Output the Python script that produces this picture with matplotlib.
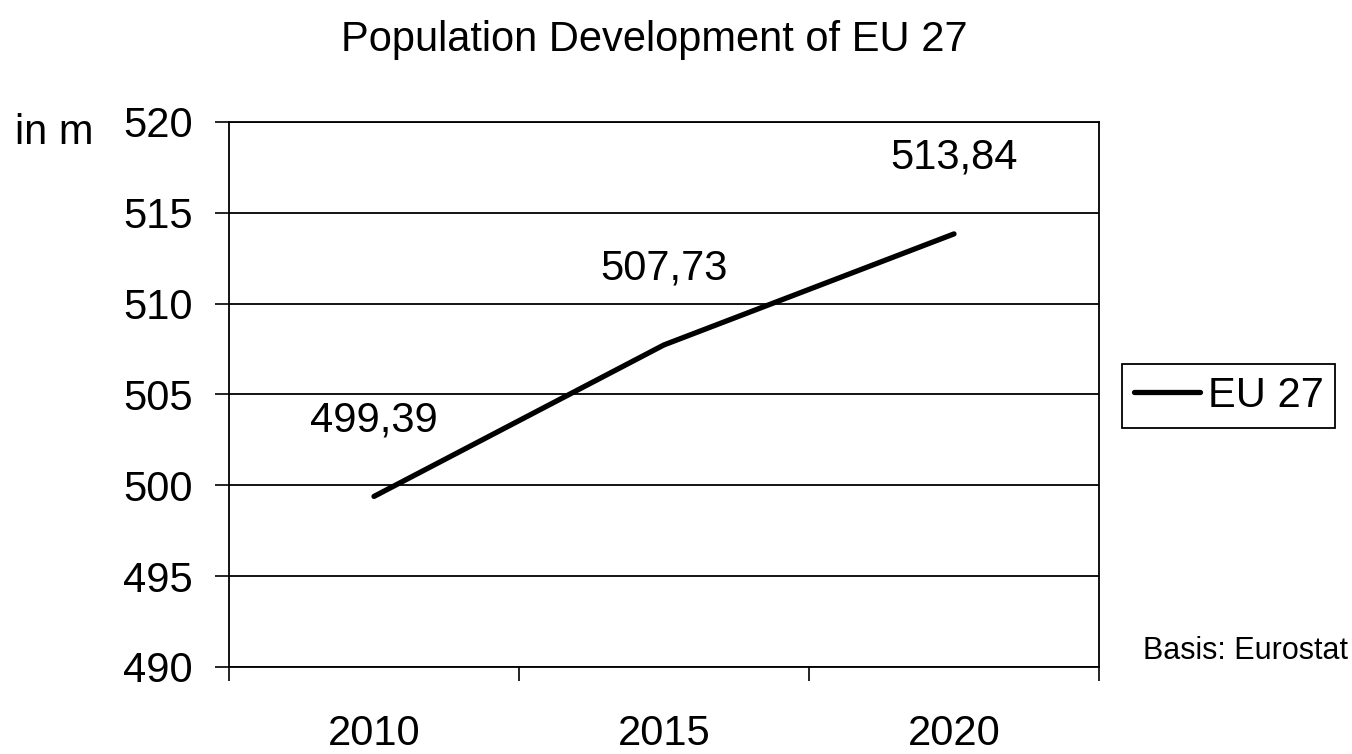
import matplotlib
matplotlib.use("Agg")
import matplotlib.pyplot as plt

plt.rcParams["font.family"] = ["Liberation Sans", "DejaVu Sans"]

years = ["2010", "2015", "2020"]
population = [499.39, 507.73, 513.84]
value_labels = ["499,39", "507,73", "513,84"]
y_ticks = [490, 495, 500, 505, 510, 515, 520]

fig = plt.figure(figsize=(13.52, 7.54), dpi=100)
ax = fig.add_axes([229 / 1352, 87 / 754, 870 / 1352, 545 / 754])

x = list(range(len(years)))
ax.plot(x, population, color="black", linewidth=3.8, solid_capstyle="round",
        label="EU 27", zorder=3)

for xi, v, lab in zip(x, population, value_labels):
    ax.annotate(lab, (xi, v), xytext=(0, 55), textcoords="offset points",
                ha="center", va="center", fontsize=30)

ax.set_xlim(-0.5, len(years) - 0.5)
ax.set_ylim(490, 520)
ax.set_yticks(y_ticks)
ax.set_yticklabels([str(t) for t in y_ticks])

# category boundaries as major ticks, year labels centered between them
ax.set_xticks([i - 0.5 for i in range(len(years) + 1)])
ax.set_xticklabels([])
ax.set_xticks(x, minor=True)
ax.set_xticklabels(years, minor=True)
ax.tick_params(axis="x", which="major", length=10, width=1.2, direction="out")
ax.tick_params(axis="x", which="minor", length=0, pad=34, labelsize=30)
ax.tick_params(axis="y", length=10, width=1.2, direction="out", pad=16, labelsize=30)

ax.grid(axis="y", color="black", linewidth=1.3)
for s in ax.spines.values():
    s.set_linewidth(1.3)

leg = fig.legend(loc="center left", bbox_to_anchor=(1122 / 1352, 1 - 396 / 754),
                 fontsize=30, frameon=True, fancybox=False, edgecolor="black",
                 framealpha=1, handlelength=1.6, handletextpad=0.18,
                 borderpad=0.28, borderaxespad=0)
leg.get_frame().set_linewidth(1.3)

fig.text(654 / 1352, 1 - 40 / 754, "Population Development of EU 27",
         ha="center", va="center", fontsize=30)
fig.text(15 / 1352, 1 - 133 / 754, "in m", ha="left", va="center", fontsize=30)
fig.text(1348 / 1352, 1 - 651 / 754, "Basis: Eurostat", ha="right", va="center",
         fontsize=22)

fig.savefig("out.png", dpi=100)
